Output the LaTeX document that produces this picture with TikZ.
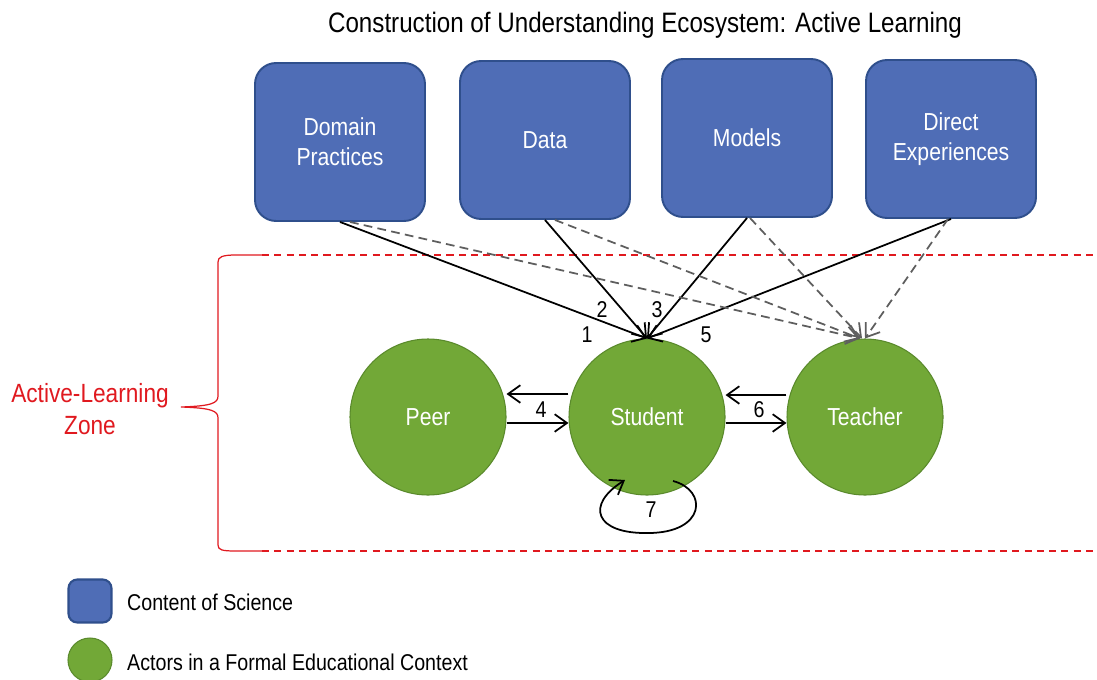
\documentclass[tikz,border=0pt]{standalone}
\usepackage{fontspec}
\setmainfont[FakeStretch=0.86]{Liberation Sans}
\usetikzlibrary{arrows.meta,calc}
\definecolor{boxblue}{HTML}{4F6DB6}
\definecolor{boxedge}{HTML}{2F4F8C}
\definecolor{actgreen}{HTML}{72A837}
\definecolor{actedge}{HTML}{5A8A2C}
\definecolor{zonered}{HTML}{E0191F}
\definecolor{dgray}{HTML}{5E5E5E}
\tikzset{
  content/.style={draw=boxedge,line width=1.1pt,fill=boxblue,rounded corners=12pt,minimum width=170*0.02cm,minimum height=158*0.02cm,text=white,align=center,font=\fontsize{14}{17}\selectfont},
  actor/.style={draw=actedge,line width=0.6pt,fill=actgreen,circle,minimum size=156*0.02cm,text=white,font=\fontsize{14}{17}\selectfont},
  flow/.style={black,line width=1pt,-{Straight Barb[length=7pt,width=10pt]}},
  dflow/.style={dgray,line width=1pt,dashed,dash pattern=on 5pt off 3pt,-{Straight Barb[length=7pt,width=10pt]}},
  num/.style={font=\fontsize{13}{15}\selectfont},
  legend/.style={font=\fontsize{13}{15}\selectfont,anchor=west}
}
\begin{document}
\begin{tikzpicture}[x=0.02cm,y=-0.02cm]
\useasboundingbox (0,0) rectangle (1097,679);
\node[font=\fontsize{16}{19}\selectfont] (title) at (645,25) {Construction of Understanding Ecosystem: Active Learning};
\node[content] (dom) at (340,142) {Domain\\Practices};
\node[content] (dat) at (545,140) {Data};
\node[content] (mod) at (747,138) {Models};
\node[content] (dir) at (951,139) {Direct\\Experiences};
\node[actor] (peer) at (428,417) {Peer};
\node[actor] (stu) at (647,417) {Student};
\node[actor] (tea) at (865,417) {Teacher};
% active-learning zone
\draw[zonered,dashed,dash pattern=on 4pt off 3pt,line width=0.6pt] (262,255) -- (1097,255);
\draw[zonered,dashed,dash pattern=on 4pt off 3pt,line width=0.6pt] (262,551) -- (1097,551);
\draw[zonered,line width=0.7pt] (262,255) -- (236,255) .. controls (222,255) and (218,257) .. (218,262) -- (218,396) .. controls (218,403) and (212,406) .. (181,407) .. controls (212,408) and (218,411) .. (218,418) -- (218,545) .. controls (218,550) and (222,551) .. (236,551) -- (262,551);
\node[zonered,align=center,font=\fontsize{15}{18}\selectfont] (zone) at (90,409) {Active-Learning\\Zone};
% content to actors
\draw[flow] (dom.south) -- (stu.north);
\draw[flow] (dat.south) -- (stu.north);
\draw[flow] (mod.south) -- (stu.north);
\draw[flow] (dir.south) -- (stu.north);
\draw[dflow] ($(dom.south)+(10,0)$) -- ($(tea.north)+(-5,0)$);
\draw[dflow] ($(dat.south)+(10,0)$) -- ($(tea.north)+(-5,0)$);
\draw[dflow] ($(mod.south)+(3,0)$) -- ($(tea.north)+(-3,0)$);
\draw[dflow] ($(dir.south)+(-3,0)$) -- (tea.north);
\node[num] (n1) at (587,335) {1};
\node[num] (n2) at (602,310) {2};
\node[num] (n3) at (657,310) {3};
\node[num] (n5) at (706,335) {5};
% between actors
\draw[flow] ($(stu.west)+(0,-23)$) -- ($(peer.east)+(0,-23)$);
\draw[flow] ($(peer.east)+(0,6)$) -- ($(stu.west)+(0,6)$);
\draw[flow] ($(tea.west)+(0,-22)$) -- ($(stu.east)+(0,-22)$);
\draw[flow] ($(stu.east)+(0,6)$) -- ($(tea.west)+(0,6)$);
\node[num] (n4) at (541,410) {4};
\node[num] (n6) at (759,410) {6};
\draw[flow] ($(stu)+(26,64)$) .. controls (708,490) and (706,533) .. (648,533) .. controls (595,534) and (585,505) .. ($(stu)+(-22,63)$);
\node[num] (n7) at (651,510) {7};
% legend
\node[draw=boxedge,line width=1.2pt,fill=boxblue,rounded corners=5pt,minimum size=43*0.02cm] (lgbox) at (90,601) {};
\node[draw=actedge,line width=0.6pt,fill=actgreen,circle,minimum size=44*0.02cm] (lgcirc) at (90,660) {};
\node[legend] (lgt1) at (121,602) {Content of Science};
\node[legend] (lgt2) at (121,662) {Actors in a Formal Educational Context};
\end{tikzpicture}
\end{document}
